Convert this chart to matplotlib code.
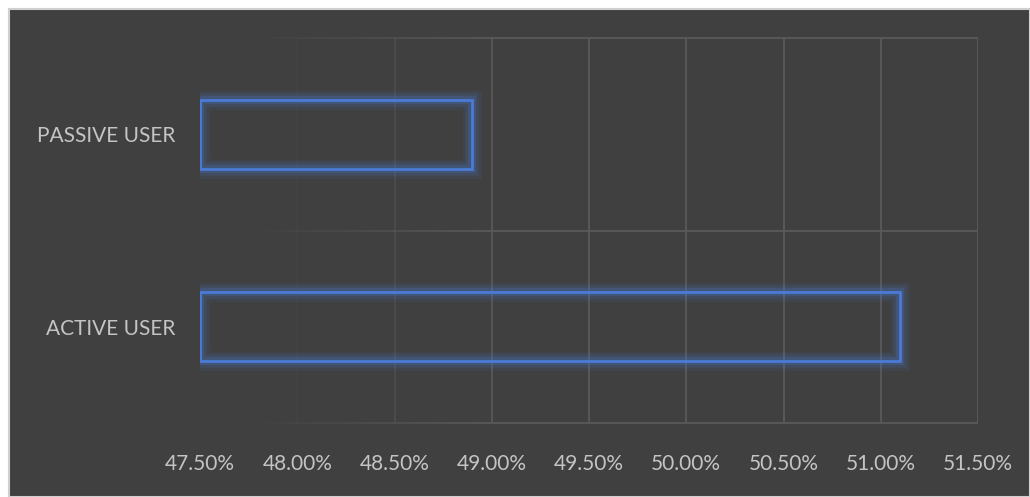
import matplotlib
matplotlib.use("Agg")
import matplotlib.pyplot as plt
import matplotlib.patheffects as pe
from matplotlib.patches import Rectangle
from matplotlib.ticker import FuncFormatter
import numpy as np

categories = ["ACTIVE USER", "PASSIVE USER"]
values = [51.10, 48.90]
xticks = [47.5, 48.0, 48.5, 49.0, 49.5, 50.0, 50.5, 51.0, 51.5]

BG = "#404040"
TXT = "#c4c4c4"
GRID = "#5a5a5a"
EDGE = "#4a7bd6"
FONT = ["Lato", "DejaVu Sans"]

fig = plt.figure(figsize=(10.30, 4.97), dpi=100)
fig.patch.set_facecolor("white")
fig.patches.append(Rectangle((9/1030, 0), 1 - 9/1030, 1 - 9/497, transform=fig.transFigure,
                             facecolor=BG, edgecolor="#d0d0d0", linewidth=1.5, zorder=-10))

ax = fig.add_axes([200/1030, 1 - 423/497, 778/1030, 385/497])
ax.set_zorder(5)
ax.set_facecolor("none")
ax.set_xlim(xticks[0], xticks[-1])
ax.set_ylim(-0.5, 1.5)

# fading gridlines (left side faint)
alphas = [0.12, 0.45, 0.9, 1, 1, 1, 1, 1]
for t, a in zip(xticks[1:], alphas):
    ax.axvline(t, color=GRID, lw=1.3, alpha=a, zorder=1)
xs = np.linspace(xticks[0], xticks[-1], 80)
for yv in [-0.5, 0.5, 1.5]:
    for j in range(len(xs) - 1):
        f = j / (len(xs) - 1)
        a = min(1.0, max(0.0, (f - 0.05) * 3.0))
        ax.plot(xs[j:j + 2], [yv, yv], color=GRID, lw=1.3, alpha=a, zorder=1,
                solid_capstyle="butt", clip_on=False)

bars = ax.barh(categories, [v - xticks[0] for v in values], left=xticks[0], height=0.36,
               facecolor="none", edgecolor=EDGE, linewidth=2.0, zorder=3)
for b in bars:
    b.set_path_effects([
        pe.Stroke(linewidth=14, foreground=EDGE, alpha=0.08),
        pe.Stroke(linewidth=10, foreground=EDGE, alpha=0.13),
        pe.Stroke(linewidth=6, foreground=EDGE, alpha=0.22),
        pe.Normal(),
    ])

for s in ax.spines.values():
    s.set_visible(False)
ax.set_xticks(xticks)
ax.xaxis.set_major_formatter(FuncFormatter(lambda v, p: f"{v:.2f}%"))
ax.tick_params(axis="both", length=0, colors=TXT, labelsize=15)
ax.tick_params(axis="x", pad=22)
ax.tick_params(axis="y", pad=18)
for lab in ax.get_xticklabels() + ax.get_yticklabels():
    lab.set_family(FONT)
    lab.set_color(TXT)

fig.savefig("out.png", dpi=100, facecolor=fig.get_facecolor())
